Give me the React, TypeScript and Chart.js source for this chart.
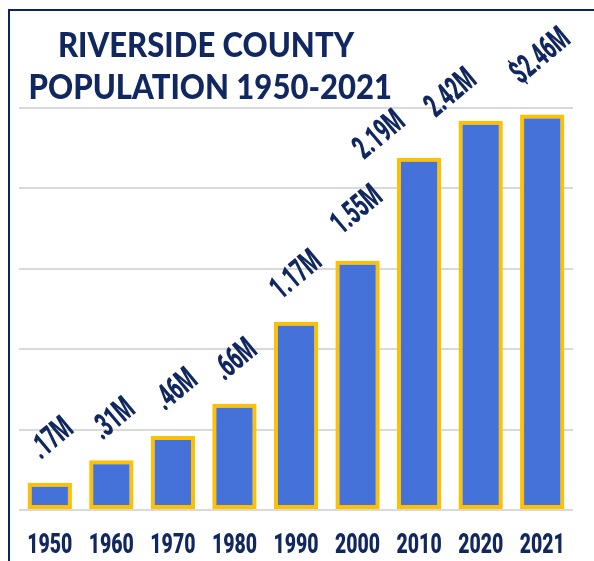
import React, { useEffect, useRef } from "react";
import { Chart, registerables } from "chart.js";

Chart.register(...registerables);

const years = ["1950", "1960", "1970", "1980", "1990", "2000", "2010", "2020", "2021"];
const population = [0.17, 0.31, 0.46, 0.66, 1.17, 1.55, 2.19, 2.42, 2.46];
const valueLabels = [".17M", ".31M", ".46M", ".66M", "1.17M", "1.55M", "2.19M", "2.42M", "$2.46M"];
const yMin = 0;
const yMax = 2.5;
const yStep = 0.5;
const titleLines = ["RIVERSIDE COUNTY", "POPULATION 1950-2021"];

// small hand placement nudges for the rotated value labels (px)
const labelNudgeX = [3, 3, 4, 2, 1, 0, -39, -29, -1];
const labelNudgeY = [0, 3, -2, 0, 1, -3, 25, 20, -7];

const NAVY = "#11275f";
const COND_FONT = "Roboto, sans-serif";

const condensedText = {
  id: "condensedText",
  afterDatasetsDraw(chart: any) {
    const ctx = chart.ctx;
    const meta = chart.getDatasetMeta(0);
    const ang = (40 * Math.PI) / 180;
    ctx.save();
    ctx.fillStyle = NAVY;

    // rotated value labels
    const labelSqueeze = 0.58;
    ctx.font = "900 33px " + COND_FONT;
    ctx.textAlign = "center";
    ctx.textBaseline = "middle";
    meta.data.forEach((bar: any, i: number) => {
      const text = valueLabels[i];
      const w = ctx.measureText(text).width * labelSqueeze;
      const h = 23;
      const boxH = w * Math.sin(ang) + h * Math.cos(ang);
      const cx = bar.x + labelNudgeX[i];
      const cy = bar.y - 20 - boxH / 2 + labelNudgeY[i];
      ctx.save();
      ctx.translate(cx, cy);
      ctx.rotate(-ang);
      ctx.scale(labelSqueeze, 1);
      ctx.fillText(text, 0, 0);
      ctx.restore();
    });

    // category labels under the axis
    const tickSqueeze = 0.72;
    const xs = chart.scales.x;
    ctx.font = "900 27px " + COND_FONT;
    ctx.textAlign = "center";
    ctx.textBaseline = "alphabetic";
    years.forEach((yr, i) => {
      const x = xs.getPixelForTick(i);
      const y = xs.top + 43;
      ctx.save();
      ctx.translate(x, y);
      ctx.scale(tickSqueeze, 1);
      ctx.fillText(yr, 0, 0);
      ctx.restore();
    });
    ctx.restore();
  },
};

export default function App() {
  const ref = useRef<HTMLCanvasElement | null>(null);

  useEffect(() => {
    if (!ref.current) return;
    const chart = new Chart(ref.current, {
      type: "bar",
      data: {
        labels: years,
        datasets: [
          {
            data: population,
            backgroundColor: "#4472d8",
            borderColor: "#ffc000",
            borderWidth: 4,
            borderSkipped: false,
            barPercentage: 0.9,
            categoryPercentage: 0.8,
          },
        ],
      },
      options: {
        responsive: false,
        animation: false,
        layout: { padding: { left: 19, right: 21, top: 108, bottom: 0 } },
        plugins: {
          legend: { display: false },
          title: { display: false },
          tooltip: { enabled: false },
        },
        scales: {
          x: {
            grid: { display: false, drawTicks: false },
            border: { display: false },
            ticks: { display: false, autoSkip: false },
            afterFit(scale: any) {
              scale.height = 51;
            },
          },
          y: {
            min: yMin,
            max: yMax,
            ticks: { display: false, stepSize: yStep },
            grid: { color: "#d9d9d9", lineWidth: 2, drawTicks: false },
            border: { display: false },
            afterFit(scale: any) {
              scale.width = 0;
            },
          },
        },
      },
      plugins: [condensedText],
    });
    return () => chart.destroy();
  }, []);

  return (
    <div
      style={{
        position: "fixed",
        left: 0,
        top: 0,
        width: 594,
        height: 561,
        background: "#ffffff",
        overflow: "hidden",
      }}
    >
      <div
        style={{
          position: "absolute",
          left: 8,
          top: 9,
          width: 586,
          height: 552,
          boxSizing: "border-box",
          borderLeft: "2px solid #0e2360",
          borderTop: "2px solid #0e2360",
        }}
      />
      <canvas
        ref={ref}
        width={594}
        height={561}
        style={{ position: "absolute", left: 0, top: 0, width: 594, height: 561 }}
      />
      <div
        style={{
          position: "absolute",
          left: 6,
          top: 22,
          width: 400,
          textAlign: "center",
          fontFamily: "Lato, sans-serif",
          fontWeight: 900,
          fontSize: 35,
          lineHeight: "42px",
          color: NAVY,
          whiteSpace: "nowrap",
          transform: "scaleX(0.887)",
          transformOrigin: "200px 0",
        }}
      >
        {titleLines.map((t) => (
          <div key={t}>{t}</div>
        ))}
      </div>
    </div>
  );
}
